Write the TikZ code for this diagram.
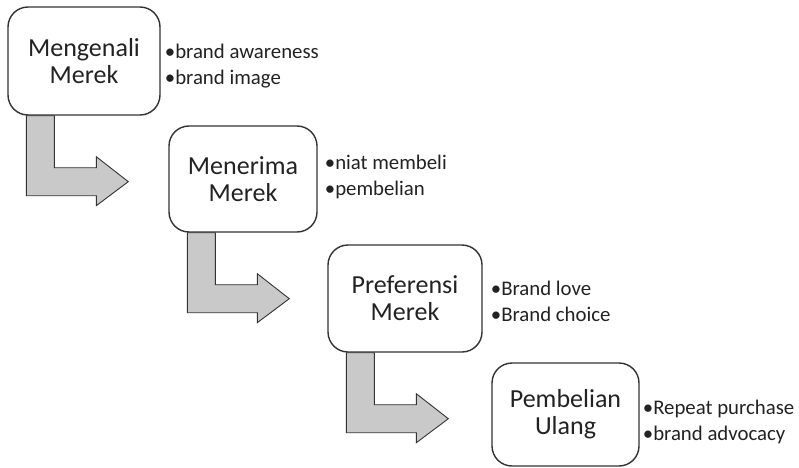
\documentclass[tikz,border=0pt]{standalone}
\usepackage{fontspec}
\setmainfont{Carlito}
\usetikzlibrary{backgrounds,calc}
\definecolor{edge}{HTML}{333333}
\definecolor{ink}{HTML}{222222}
\definecolor{flow}{HTML}{C9C9C9}
\tikzset{
  stage/.style={draw=edge, line width=1.4pt, rounded corners=20pt, fill=white,
    align=center, text=ink, inner sep=0pt,
    font=\fontsize{26}{27}\selectfont},
  notes/.style={anchor=west, align=left, text=ink, inner sep=0pt,
    font=\fontsize{20.8}{26}\selectfont},
  bent/.style={draw=edge, line width=0.9pt, fill=flow, line join=miter}
}
% elbow arrow hanging from the bottom of a stage box
\newcommand\elbow[1]{%
  \draw[bent] let \p1=(#1.south west) in
    (\x1+19pt,\y1) -- ++(0,-80pt) -- ++(70pt,0) -- ++(0,-10pt)
    -- ++(32pt,24pt) -- ++(-32pt,25pt) -- ++(0,-11pt) -- ++(-42pt,0)
    -- ++(0,52pt) -- cycle;}
\begin{document}
\begin{tikzpicture}[x=1pt,y=1pt]
\useasboundingbox (0,0) rectangle (799,467);
\node[stage, minimum width=152pt, minimum height=108pt] (s1) at (84,406) {Mengenali\\Merek};
\node[stage, minimum width=148pt, minimum height=106pt] (s2) at (243,288) {Menerima\\Merek};
\node[stage, minimum width=154pt, minimum height=107pt] (s3) at (405,168.5) {Preferensi\\Merek};
\node[stage, minimum width=147pt, minimum height=103pt] (s4) at (565.5,52.5) {Pembelian\\Ulang};

\node[notes] (n1) at ($(s1.east)+(4,-5)$) {•brand awareness\\•brand image};
\node[notes] (n2) at ($(s2.east)+(7,2)$) {•niat membeli\\•pembelian};
\node[notes] (n3) at ($(s3.east)+(8,-3)$) {•Brand love\\•Brand choice};
\node[notes] (n4) at ($(s4.east)+(3,-7)$) {•Repeat purchase\\•brand advocacy};

\begin{scope}[on background layer]
  \elbow{s1}
  \elbow{s2}
  \elbow{s3}
\end{scope}
\end{tikzpicture}
\end{document}
